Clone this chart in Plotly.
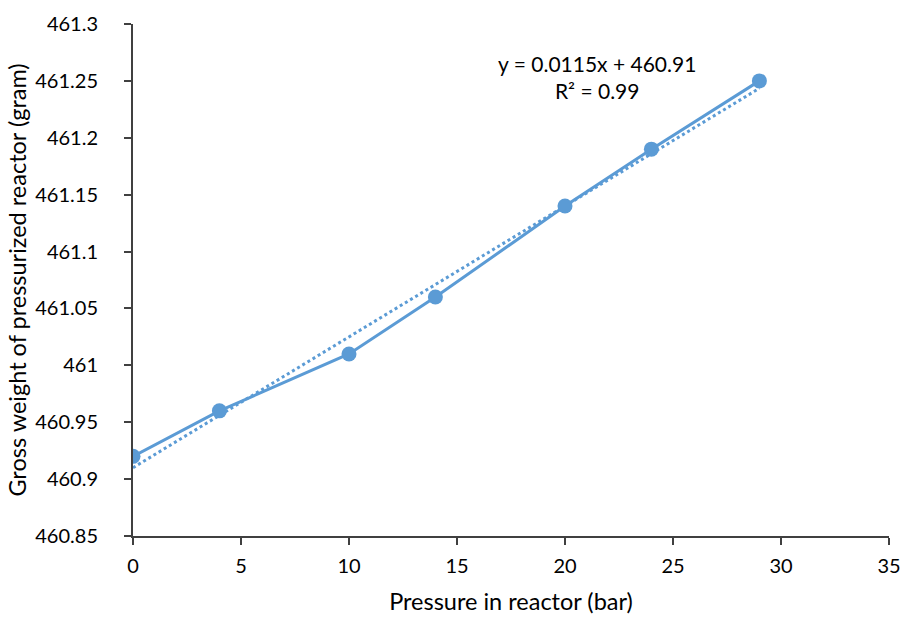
import plotly.graph_objects as go

pressure = [0, 4, 10, 14, 20, 24, 29]
weight = [460.92, 460.96, 461.01, 461.06, 461.14, 461.19, 461.25]

slope = 0.0115
intercept = 460.91
trend_x = [pressure[0], pressure[-1]]
trend_y = [slope * x + intercept for x in trend_x]

y_tickvals = [460.85, 460.9, 460.95, 461.0, 461.05, 461.1, 461.15, 461.2, 461.25, 461.3]
y_ticktext = ["460.85", "460.9", "460.95", "461", "461.05", "461.1", "461.15", "461.2", "461.25", "461.3"]
x_tickvals = [0, 5, 10, 15, 20, 25, 30, 35]

color = "#5B9BD5"
font = "Lato, Carlito, Calibri, sans-serif"

fig = go.Figure()
fig.add_trace(go.Scatter(x=trend_x, y=trend_y, mode="lines",
                         line=dict(color=color, width=3, dash="dot"),
                         showlegend=False, hoverinfo="skip"))
fig.add_trace(go.Scatter(x=pressure, y=weight, mode="lines+markers",
                         line=dict(color=color, width=3),
                         marker=dict(color=color, size=15),
                         showlegend=False))

ML, MR, MT, MB = 133, 13, 24, 81
plot_w = 902 - ML - MR
plot_h = 617 - MT - MB

fig.add_annotation(x=(597 - ML) / plot_w, y=(617 - MB - 77) / plot_h,
                   xref="paper", yref="paper", xanchor="center", yanchor="middle",
                   text="y = 0.0115x + 460.91<br>R² = 0.99",
                   showarrow=False, align="center",
                   font=dict(family=font, size=21, color="#000000"))

fig.update_layout(
    width=902, height=617,
    margin=dict(l=ML, r=MR, t=MT, b=MB),
    paper_bgcolor="white", plot_bgcolor="white",
    font=dict(family=font, size=20, color="#000000"),
    xaxis=dict(range=[0, 35], tickvals=x_tickvals, showline=True, linecolor="#404040",
               linewidth=2, ticks="outside", ticklen=7, tickcolor="#404040", tickwidth=2,
               showgrid=False, zeroline=False, ticklabelstandoff=4, automargin=False,
               title=dict(text="Pressure in reactor (bar)", font=dict(size=23.5), standoff=18)),
    yaxis=dict(range=[460.85, 461.3], tickvals=y_tickvals, ticktext=y_ticktext,
               showline=True, linecolor="#404040", linewidth=2, ticks="outside",
               ticklen=7, tickcolor="#404040", tickwidth=2, showgrid=False, zeroline=False,
               ticklabelstandoff=22, automargin=False,
               title=dict(text="Gross weight of pressurized reactor (gram)", font=dict(size=23.5), standoff=2)),
)

fig.write_html("out.html", config={"displayModeBar": False},
               post_script="document.body.style.margin='0';")
